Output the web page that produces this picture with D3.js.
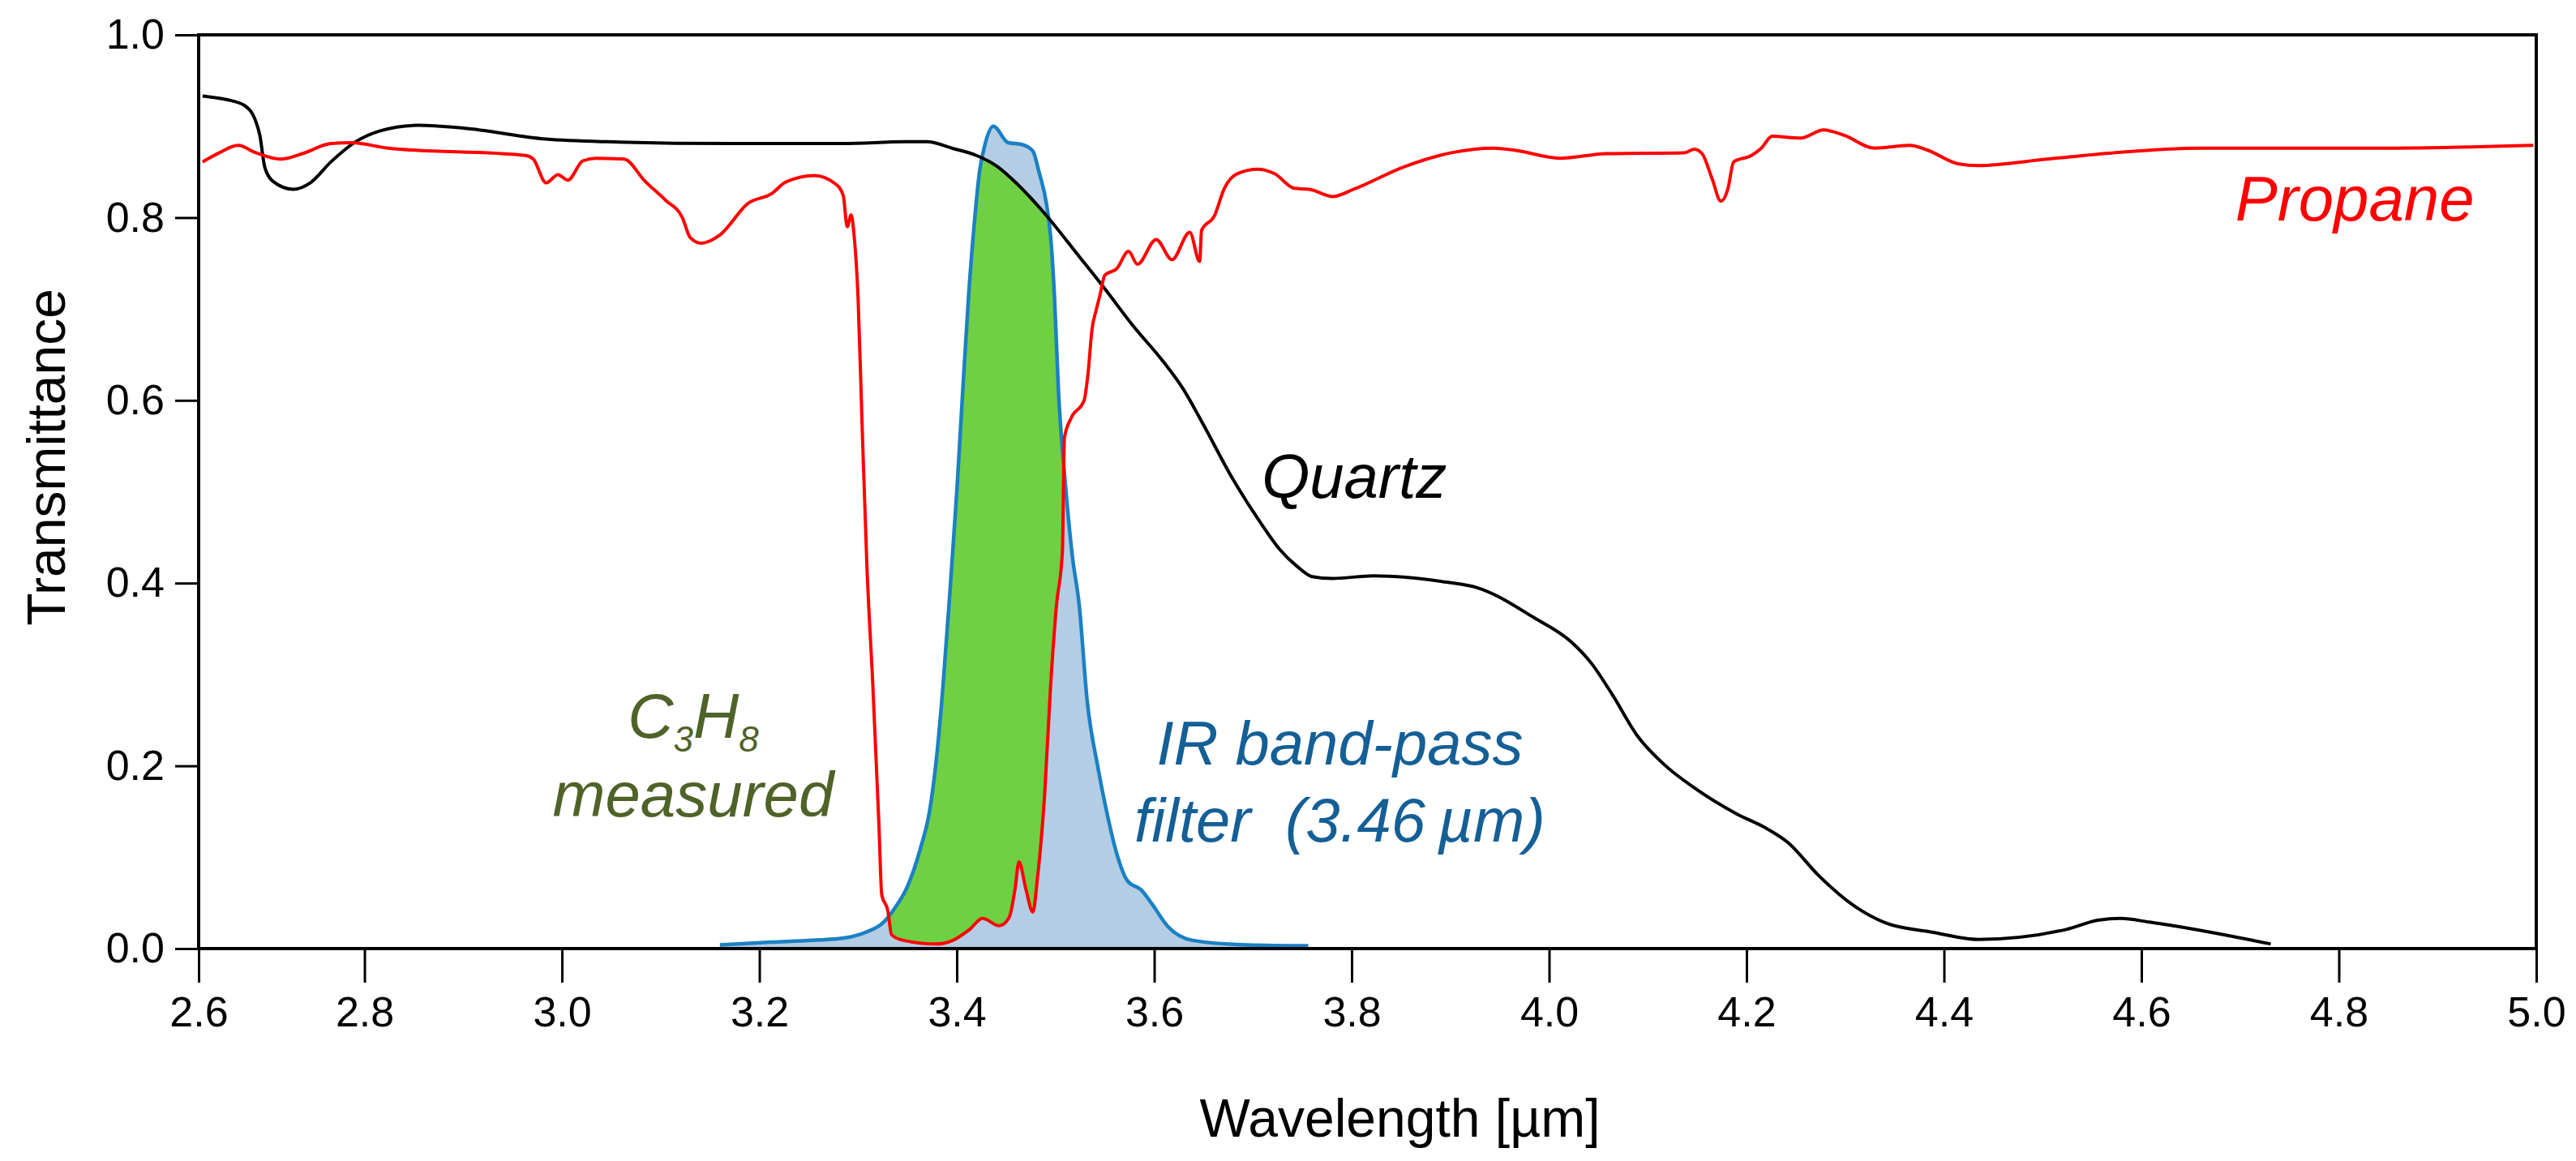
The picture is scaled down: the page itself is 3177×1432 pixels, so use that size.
<!DOCTYPE html>
<html>
<head>
<meta charset="utf-8">
<script src="https://cdnjs.cloudflare.com/ajax/libs/d3/7.8.5/d3.min.js"></script>
<style>
  body { margin: 0; background: #fff; }
  text { font-family: Arial, "Liberation Sans", Helvetica, sans-serif; }
</style>
</head>
<body>
<svg id="chart" width="3177" height="1432"></svg>
<script>
// wavelength [um] and transmittance
var quartzWl = [2.636, 2.661, 2.678, 2.690, 2.694, 2.699, 2.707, 2.728, 2.745, 2.766, 2.791, 2.816, 2.854, 2.900,
  2.984, 3.046, 3.172, 3.285, 3.348, 3.370, 3.395, 3.420, 3.441, 3.462, 3.487, 3.525, 3.550, 3.579, 3.608, 3.629,
  3.650, 3.679, 3.709, 3.727, 3.745, 3.760, 3.780, 3.822, 3.896, 3.927, 3.985, 4.022, 4.043, 4.064, 4.090, 4.116,
  4.147, 4.189, 4.221, 4.242, 4.273, 4.310, 4.341, 4.388, 4.435, 4.524, 4.556, 4.579, 4.608, 4.731];
var quartzT = [0.933, 0.929, 0.923, 0.905, 0.890, 0.855, 0.840, 0.831, 0.838, 0.861, 0.883, 0.895, 0.901, 0.898,
  0.886, 0.883, 0.881, 0.881, 0.883, 0.883, 0.876, 0.868, 0.856, 0.836, 0.807, 0.756, 0.722, 0.681, 0.644, 0.613,
  0.573, 0.515, 0.464, 0.437, 0.418, 0.407, 0.405, 0.408, 0.401, 0.395, 0.362, 0.336, 0.312, 0.278, 0.232, 0.202,
  0.176, 0.148, 0.131, 0.116, 0.080, 0.046, 0.028, 0.018, 0.010, 0.021, 0.031, 0.033, 0.029, 0.005];

var propaneWl = [2.636, 2.653, 2.672, 2.690, 2.715, 2.737, 2.766, 2.787, 2.824, 2.963, 2.971, 2.984, 2.996, 3.006,
  3.021, 3.034, 3.063, 3.084, 3.105, 3.122, 3.130, 3.141, 3.160, 3.189, 3.212, 3.227, 3.256, 3.277, 3.285, 3.289,
  3.293, 3.296, 3.300, 3.304, 3.309, 3.315, 3.321, 3.324, 3.330, 3.334, 3.346, 3.379, 3.396, 3.413, 3.426, 3.443,
  3.453, 3.459, 3.463, 3.470, 3.477, 3.482, 3.489, 3.495, 3.501, 3.507, 3.509, 3.516, 3.529, 3.533, 3.537, 3.541,
  3.545, 3.550, 3.562, 3.574, 3.583, 3.602, 3.618, 3.636, 3.646, 3.648, 3.661, 3.671, 3.684, 3.705, 3.722, 3.742,
  3.757, 3.781, 3.802, 3.854, 3.901, 3.943, 3.964, 4.011, 4.058, 4.137, 4.147, 4.155, 4.165, 4.174, 4.181, 4.187,
  4.205, 4.215, 4.226, 4.255, 4.278, 4.299, 4.330, 4.365, 4.383, 4.414, 4.435, 4.504, 4.572, 4.660, 4.838, 4.997];
var propaneT = [0.861, 0.871, 0.879, 0.871, 0.864, 0.870, 0.881, 0.882, 0.876, 0.868, 0.864, 0.838, 0.847, 0.841,
  0.862, 0.865, 0.864, 0.840, 0.819, 0.800, 0.778, 0.772, 0.781, 0.816, 0.826, 0.839, 0.846, 0.837, 0.824, 0.790,
  0.803, 0.780, 0.712, 0.576, 0.417, 0.287, 0.139, 0.059, 0.042, 0.015, 0.009, 0.005, 0.009, 0.021, 0.033, 0.025,
  0.034, 0.065, 0.095, 0.065, 0.040, 0.080, 0.169, 0.287, 0.376, 0.435, 0.559, 0.581, 0.600, 0.630, 0.678, 0.698,
  0.715, 0.737, 0.744, 0.763, 0.749, 0.776, 0.754, 0.784, 0.752, 0.786, 0.802, 0.832, 0.848, 0.853, 0.848, 0.832,
  0.831, 0.823, 0.831, 0.856, 0.871, 0.876, 0.874, 0.865, 0.870, 0.871, 0.875, 0.870, 0.843, 0.818, 0.831, 0.861,
  0.868, 0.876, 0.889, 0.887, 0.896, 0.890, 0.876, 0.879, 0.874, 0.859, 0.857, 0.864, 0.871, 0.876, 0.876, 0.879];

var filterWl = [3.160, 3.212, 3.254, 3.288, 3.308, 3.325, 3.337, 3.350, 3.363, 3.373, 3.379, 3.386, 3.393, 3.400,
  3.406, 3.412, 3.418, 3.423, 3.429, 3.437, 3.452, 3.466, 3.477, 3.483, 3.491, 3.495, 3.499, 3.503, 3.510, 3.517,
  3.524, 3.532, 3.543, 3.551, 3.562, 3.573, 3.587, 3.597, 3.614, 3.639, 3.694, 3.756];
var filterT = [0.004, 0.007, 0.009, 0.012, 0.018, 0.028, 0.044, 0.068, 0.109, 0.154, 0.204, 0.287, 0.390, 0.500,
  0.610, 0.715, 0.797, 0.850, 0.882, 0.900, 0.882, 0.880, 0.873, 0.851, 0.814, 0.780, 0.712, 0.610, 0.508, 0.430,
  0.376, 0.272, 0.198, 0.154, 0.104, 0.074, 0.064, 0.050, 0.024, 0.009, 0.004, 0.003];

var xTicks = [2.6, 2.8, 3.0, 3.2, 3.4, 3.6, 3.8, 4.0, 4.2, 4.4, 4.6, 4.8, 5.0];
var yTicks = [0.0, 0.2, 0.4, 0.6, 0.8, 1.0];

window.onload = function(){
  var svg = d3.select("#chart");
  var left = 245, right = 3128, top = 43, bottom = 1170;

  // the frame starts a little past 2.6, the 2.6 label sits on its edge
  var x = d3.scaleLinear().domain([2.632, 5.0]).range([left, right]).clamp(true);
  var y = d3.scaleLinear().domain([0, 1]).range([bottom, top]);

  var pairs = function(wl, t){ return wl.map(function(w, i){ return [w, t[i]]; }); };
  var quartz = pairs(quartzWl, quartzT);
  var propane = pairs(propaneWl, propaneT);
  var filter = pairs(filterWl, filterT);

  var line = d3.line()
    .x(function(d){ return x(d[0]); })
    .y(function(d){ return y(d[1]); })
    .curve(d3.curveMonotoneX);
  var areaBelow = d3.area()
    .x(function(d){ return x(d[0]); })
    .y0(y(0))
    .y1(function(d){ return y(d[1]); })
    .curve(d3.curveMonotoneX);
  var areaAbove = d3.area()
    .x(function(d){ return x(d[0]); })
    .y0(y(1))
    .y1(function(d){ return y(d[1]); })
    .curve(d3.curveMonotoneX);

  // green = filter band below quartz and above the propane curve
  var defs = svg.append("defs");
  defs.append("clipPath").attr("id", "underQuartz")
    .append("path").attr("d", areaBelow(quartz));
  defs.append("clipPath").attr("id", "aboveRed")
    .append("path").attr("d", areaAbove(propane));

  svg.append("path")
    .attr("d", areaBelow(filter))
    .attr("fill", "#b3cde4");
  svg.append("g")
    .attr("clip-path", "url(#underQuartz)")
    .append("path")
    .attr("clip-path", "url(#aboveRed)")
    .attr("d", areaBelow(filter))
    .attr("fill", "#6fd044");
  svg.append("path")
    .attr("d", line(filter))
    .attr("fill", "none")
    .attr("stroke", "#1b80c4")
    .attr("stroke-width", 4.5);
  svg.append("path")
    .attr("d", line(quartz))
    .attr("fill", "none")
    .attr("stroke", "#000")
    .attr("stroke-width", 4);
  svg.append("path")
    .attr("d", line(propane))
    .attr("fill", "none")
    .attr("stroke", "#ff0000")
    .attr("stroke-width", 4);

  // axes
  var xAxis = d3.axisBottom(x).tickValues(xTicks).tickSizeInner(42).tickSizeOuter(0)
    .tickPadding(17).tickFormat(d3.format(".1f"));
  var yAxis = d3.axisLeft(y).tickValues(yTicks).tickSizeInner(29).tickSizeOuter(0)
    .tickPadding(13).tickFormat(d3.format(".1f"));

  var gx = svg.append("g").attr("transform", "translate(0," + bottom + ")").call(xAxis);
  var gy = svg.append("g").attr("transform", "translate(" + left + ",0)").call(yAxis);
  [gx, gy].forEach(function(g){
    g.select(".domain").remove();
    g.attr("font-size", 52).attr("font-family", "Arial, 'Liberation Sans', sans-serif");
    g.selectAll("line").attr("stroke-width", 3);
    g.selectAll("text").attr("fill", "#000");
  });

  svg.append("rect")
    .attr("x", left).attr("y", top)
    .attr("width", right - left).attr("height", bottom - top)
    .attr("fill", "none")
    .attr("stroke", "#000")
    .attr("stroke-width", 4);

  svg.append("text")
    .attr("x", (left + right) / 2 + 40).attr("y", 1402)
    .attr("text-anchor", "middle")
    .attr("font-size", 66)
    .text("Wavelength [\u00b5m]");
  svg.append("text")
    .attr("transform", "translate(80," + 564 + ") rotate(-90)")
    .attr("text-anchor", "middle")
    .attr("font-size", 66)
    .text("Transmittance");

  // curve labels, placed in data units
  svg.append("text")
    .attr("x", x(3.709)).attr("y", y(0.493))
    .attr("font-size", 76).attr("font-style", "italic")
    .attr("fill", "#000")
    .text("Quartz");
  svg.append("text")
    .attr("x", x(4.695)).attr("y", y(0.797))
    .attr("font-size", 78).attr("font-style", "italic")
    .attr("fill", "#ff0000")
    .text("Propane");

  var c3 = svg.append("text")
    .attr("x", x(3.133)).attr("y", y(0.231))
    .attr("text-anchor", "middle")
    .attr("font-size", 78).attr("font-style", "italic")
    .attr("fill", "#4f6228");
  c3.append("tspan").text("C");
  c3.append("tspan").attr("font-size", 44).attr("dy", 17).text("3");
  c3.append("tspan").attr("dy", -17).text("H");
  c3.append("tspan").attr("font-size", 44).attr("dy", 17).text("8");
  svg.append("text")
    .attr("x", x(3.133)).attr("y", y(0.145))
    .attr("text-anchor", "middle")
    .attr("font-size", 78).attr("font-style", "italic")
    .attr("fill", "#4f6228")
    .text("measured");

  svg.append("text")
    .attr("x", x(3.788)).attr("y", y(0.201))
    .attr("text-anchor", "middle")
    .attr("font-size", 76).attr("font-style", "italic")
    .attr("fill", "#145f96")
    .text("IR band-pass");
  svg.append("text")
    .attr("x", x(3.788)).attr("y", y(0.117))
    .attr("text-anchor", "middle")
    .attr("font-size", 76).attr("font-style", "italic")
    .attr("fill", "#145f96")
    .text("filter\u00a0 (3.46\u2009\u00b5m)");
};
</script>
</body>
</html>
